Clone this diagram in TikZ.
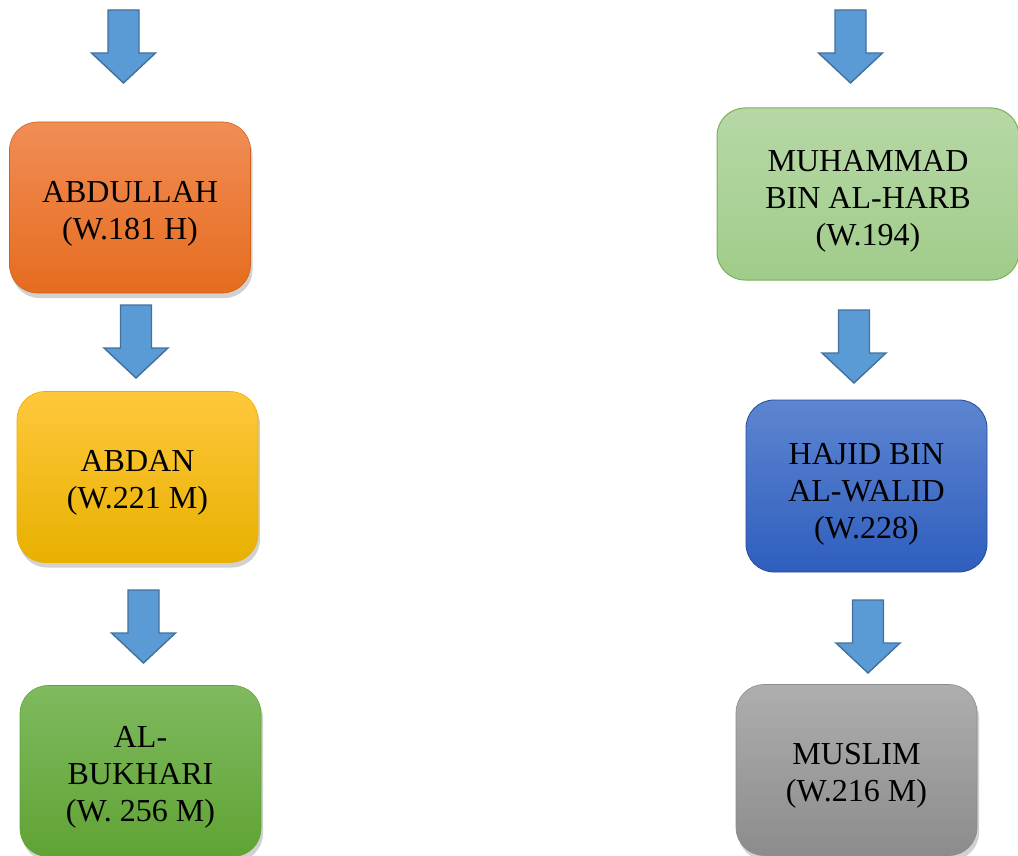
\documentclass[tikz,border=0pt]{standalone}
\usepackage{fontspec}
\setmainfont{Liberation Serif}
\usetikzlibrary{shadows}

\definecolor{orangetop}{RGB}{241,141,86}
\definecolor{orangebot}{RGB}{230,108,30}
\definecolor{yellowtop}{RGB}{255,200,60}
\definecolor{yellowbot}{RGB}{232,176,0}
\definecolor{greentop}{RGB}{127,186,95}
\definecolor{greenbot}{RGB}{96,163,52}
\definecolor{lgreentop}{RGB}{183,216,166}
\definecolor{lgreenbot}{RGB}{160,204,138}
\definecolor{lgreenline}{RGB}{122,176,90}
\definecolor{bluetop}{RGB}{93,133,208}
\definecolor{bluebot}{RGB}{47,94,190}
\definecolor{graytop}{RGB}{174,174,174}
\definecolor{graybot}{RGB}{140,140,140}
\definecolor{arrowfill}{RGB}{91,155,213}
\definecolor{arrowline}{RGB}{65,113,156}

\tikzset{
  namebox/.style={rounded corners=28pt, minimum width=241pt, minimum height=171pt, line width=.6pt},
  shadowed/.style={drop shadow={shadow xshift=2pt, shadow yshift=-5pt, opacity=.3, fill=black!60}},
  boxtext/.style={align=center, inner sep=0pt, yshift=-6pt, font=\fontsize{32}{37}\selectfont},
  blockarrow/.style={fill=arrowfill, draw=arrowline, line width=1.4pt, line join=miter}
}

\begin{document}
\begin{tikzpicture} [x=1pt, y=-1pt]
\useasboundingbox (0,0) rectangle (1018,856);
\clip (0,0) rectangle (1018,856);

% left chain
\node[namebox, shadowed, top color=orangetop, bottom color=orangebot, draw=orangebot!90!black,
  label={[boxtext]center:ABDULLAH\\(W.181 H)}] (abdullah) at (130,207.5) {};
\node[namebox, shadowed, top color=yellowtop, bottom color=yellowbot, draw=yellowbot,
  label={[boxtext]center:ABDAN\\(W.221 M)}] (abdan) at (137.5,477) {};
\node[namebox, shadowed, top color=greentop, bottom color=greenbot, draw=greenbot,
  label={[boxtext]center:AL-\\BUKHARI\\(W. 256 M)}] (bukhari) at (140.5,771) {};

% right chain
\node[namebox, minimum width=302pt, minimum height=172pt, top color=lgreentop, bottom color=lgreenbot, draw=lgreenline, line width=1pt,
  label={[boxtext, yshift=-1pt]center:MUHAMMAD\\BIN AL-HARB\\(W.194)}] (muhammad) at (868,194) {};
\node[namebox, minimum height=172pt, top color=bluetop, bottom color=bluebot, draw=bluebot!80!black, line width=.8pt,
  label={[boxtext, yshift=-2pt]center:HAJID BIN\\AL-WALID\\(W.228)}] (hajid) at (866.5,486) {};
\node[namebox, shadowed, top color=graytop, bottom color=graybot, draw=graybot,
  label={[boxtext]center:MUSLIM\\(W.216 M)}] (muslim) at (856.5,770) {};

% block arrows (centre x / top y)
\foreach \cx/\ty in {123.5/10, 136/305, 143.5/590, 850.5/10, 854/310, 868/600}
  \draw[blockarrow] (\cx-15.5,\ty) -- ++(31,0) -- ++(0,43) -- ++(16.5,0) -- ++(-32,30) -- ++(-32,-30) -- ++(16.5,0) -- cycle;
\end{tikzpicture}
\end{document}
